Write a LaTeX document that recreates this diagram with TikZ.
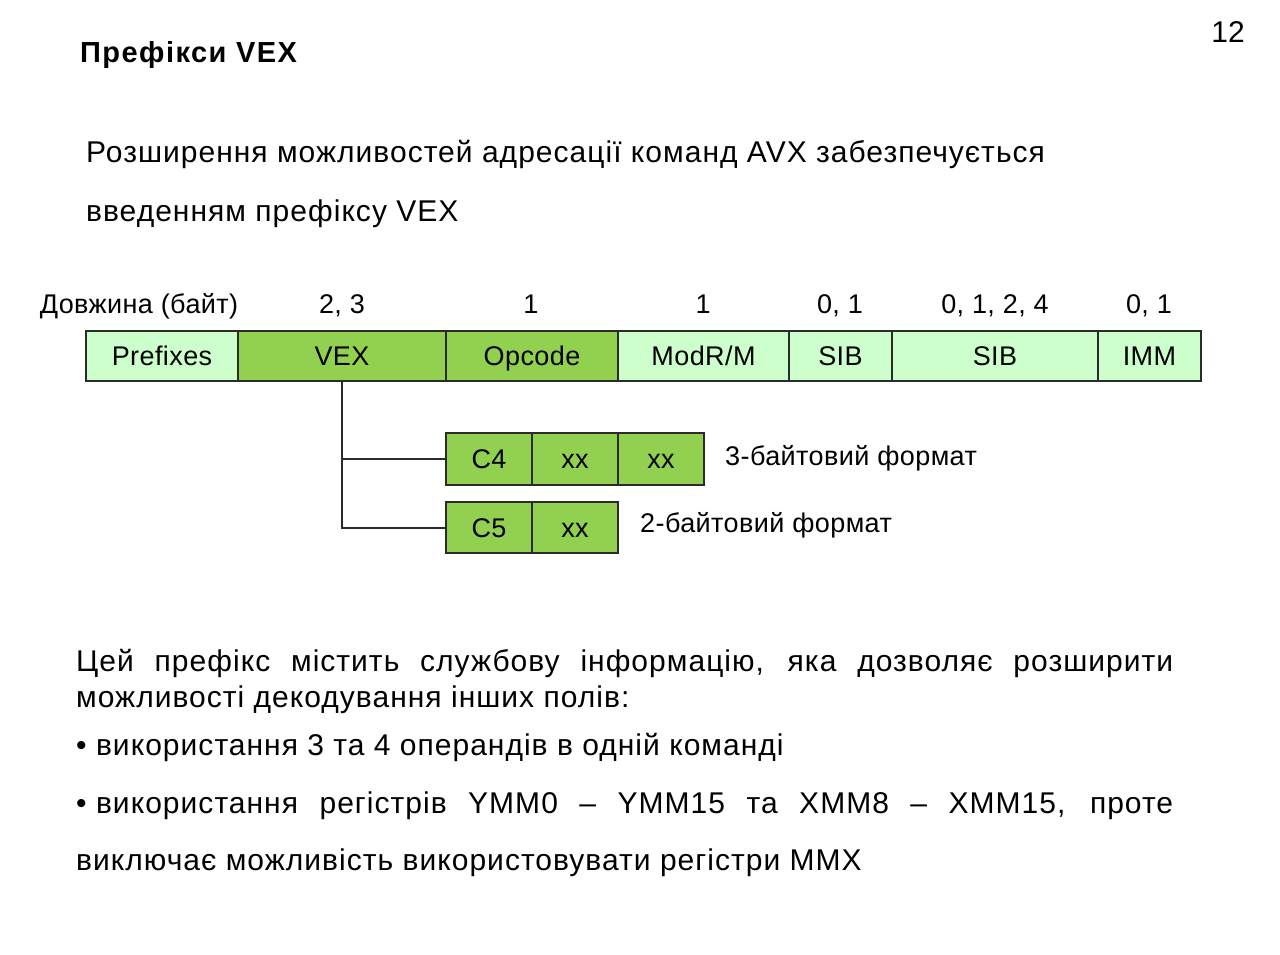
\documentclass[tikz,border=0pt]{standalone}
\usepackage{fontspec}
\setmainfont{Liberation Sans}
\newfontfamily\bodyfont[LetterSpace=3.4]{Liberation Sans}
\newfontfamily\titlefont[LetterSpace=5]{Liberation Sans Bold}
\newfontfamily\labelfont[LetterSpace=1.5]{Liberation Sans}
\definecolor{lightg}{HTML}{CCFFCC}
\definecolor{darkg}{HTML}{92D050}
\definecolor{edge}{HTML}{2B2B2B}
\begin{document}
\begin{tikzpicture}[x=1pt,y=-1pt,
  field/.style={draw=edge,line width=2,inner sep=0,outer sep=0,
    minimum height=50,text height=19.3pt,text depth=0pt,
    font=\labelfont\fontsize{27}{30}\selectfont},
  lightfield/.style={field,fill=lightg},
  darkfield/.style={field,fill=darkg},
  lbl/.style={inner sep=0,anchor=base,font=\labelfont\fontsize{27}{30}\selectfont},
  body/.style={inner sep=0,anchor=base west,font=\bodyfont\fontsize{30}{34}\selectfont},
  wire/.style={draw=edge,line width=2}]
\useasboundingbox (0,0) rectangle (1280,955);

% heading and page number
\node[inner sep=0,anchor=base west,font=\titlefont\fontsize{29}{34}\selectfont] (title) at (80,63) {Префікси VEX};
\node[inner sep=0,anchor=base,font=\fontsize{30}{34}\selectfont] (page) at (1228,43) {12};

% introduction
\node[body] (intro1) at (86,163) {Розширення можливостей адресації команд AVX забезпечується};
\node[body] (intro2) at (86,221) {введенням префіксу VEX};

% field lengths
\node[lbl] (hlen) at (139,313) {Довжина (байт)};
\node[lbl] (h1) at (342,313) {2, 3};
\node[lbl] (h2) at (531,313) {1};
\node[lbl] (h3) at (703,313) {1};
\node[lbl] (h4) at (840,313) {0, 1};
\node[lbl] (h5) at (995,313) {0, 1, 2, 4};
\node[lbl] (h6) at (1149,313) {0, 1};

% instruction fields
\node[lightfield,minimum width=152] (pre) at (162,356) {Prefixes};
\node[darkfield,minimum width=208] (vex) at (342,356) {VEX};
\node[darkfield,minimum width=172] (opc) at (532,356) {Opcode};
\node[lightfield,minimum width=171] (mod) at (703.5,356) {ModR/M};
\node[lightfield,minimum width=103] (sib) at (840.5,356) {SIB};
\node[lightfield,minimum width=206] (disp) at (995,356) {SIB};
\node[lightfield,minimum width=103] (imm) at (1149.5,356) {IMM};

% VEX formats
\node[darkfield,minimum width=86,minimum height=52] (c4) at (489,459) {C4};
\node[darkfield,minimum width=86,minimum height=52] (c4a) at (575,459) {xx};
\node[darkfield,minimum width=86,minimum height=52] (c4b) at (661,459) {xx};
\node[darkfield,minimum width=86,minimum height=51] (c5) at (489,527.5) {C5};
\node[darkfield,minimum width=86,minimum height=51] (c5a) at (575,527.5) {xx};
\node[lbl,anchor=base west] (f3) at (725,465) {3-байтовий формат};
\node[lbl,anchor=base west] (f2) at (640,532) {2-байтовий формат};

\draw[wire] (vex.south) |- (c4.west);
\draw[wire] (vex.south) |- (c5.west);

% description
\node[body] (d1) at (76,671)
  {\makebox[1097pt][s]{Цей префікс містить службову інформацію, яка дозволяє розширити}};
\node[body] (d2) at (76,707) {можливості декодування інших полів:};
\node[body] (b1) at (76,755) {• використання 3 та 4 операндів в одній команді};
\node[body] (b2) at (76,813)
  {\makebox[1097pt][s]{\mbox{• використання} регістрів YMM0 – YMM15 та XMM8 – XMM15, проте}};
\node[body] (b3) at (76,870) {виключає можливість використовувати регістри MMX};
\end{tikzpicture}
\end{document}
